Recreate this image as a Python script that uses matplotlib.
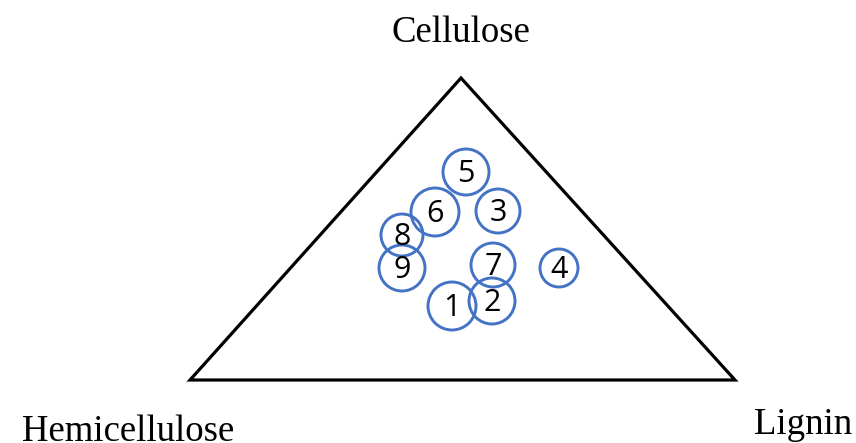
import matplotlib.pyplot as plt
from matplotlib.patches import Circle, Polygon

# triangle corners (pixel coords of the picture)
corners_x = [190, 735, 461]
corners_y = [380, 380, 78]
corner_names = ['Hemicellulose', 'Lignin', 'Cellulose']

# sample circles
labels = ['1', '2', '3', '4', '5', '6', '7', '8', '9']
cx = [452, 492, 498, 559, 466, 435, 493, 402, 402]
cy = [306, 301, 211, 268, 172, 212, 265, 235, 268]
radius = [24, 23, 22, 19, 23, 24, 22, 21, 23]

fig = plt.figure(figsize=(8.56, 4.43), dpi=100)
ax = fig.add_axes([0, 0, 1, 1])
ax.set_xlim(0, 856)
ax.set_ylim(443, 0)
ax.axis('off')

tri = Polygon(list(zip(corners_x, corners_y)), closed=True, fill=False,
              edgecolor='black', linewidth=2.3, joinstyle='miter')
ax.add_patch(tri)

for i in range(len(labels)):
    c = Circle((cx[i], cy[i]), radius[i], fill=False, edgecolor='#4472C4', linewidth=2.1)
    ax.add_patch(c)
    ax.text(cx[i], cy[i] + 2, labels[i], ha='center', va='center',
            fontsize=22, family='Open Sans', color='black')

# corner labels
ax.text(128, 441, corner_names[0], ha='center', va='baseline', fontsize=26.5, family='Liberation Serif')
ax.text(803, 434, corner_names[1], ha='center', va='baseline', fontsize=26.5, family='Liberation Serif')
ax.text(461, 42, corner_names[2], ha='center', va='baseline', fontsize=26.5, family='Liberation Serif')

plt.savefig('out.png', dpi=100)
